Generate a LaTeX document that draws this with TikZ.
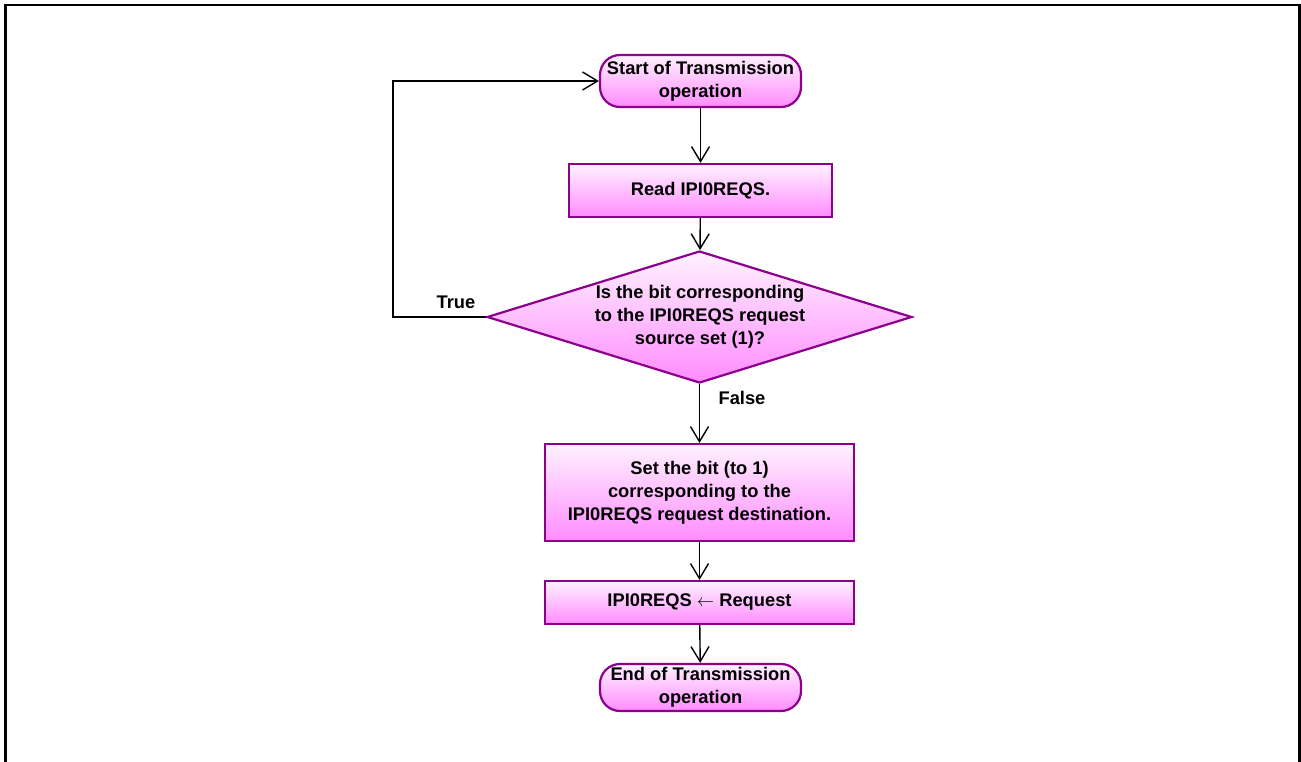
\documentclass[tikz,border=0pt]{standalone}
\usepackage{fontspec}
\setmainfont{Liberation Sans}
\usetikzlibrary{shapes.geometric,arrows.meta}
\definecolor{bord}{RGB}{140,0,140}
\definecolor{ptop}{RGB}{255,242,255}
\definecolor{pbot}{RGB}{255,140,255}
\tikzset{
  base/.style={draw=bord, line width=2.2pt, top color=ptop, bottom color=pbot, inner sep=0pt,
    font=\bfseries\fontsize{18.3}{23}\selectfont, align=center},
  term/.style={base, rectangle, rounded corners=20pt},
  proc/.style={base, rectangle},
  dia/.style={base, diamond},
  txt/.style={font=\bfseries\fontsize{18.3}{23}\selectfont, align=center, inner sep=0pt},
  conn/.style={line width=1.4pt, -{Straight Barb[length=15pt,width=18pt,line width=1.4pt]}},
}
\begin{document}
\begin{tikzpicture}[x=1pt,y=-1pt]
\clip (0,0) rectangle (1301,762);
\draw[line width=2.2pt] (5.5,800) -- (5.5,5) -- (1299.5,5) -- (1299.5,800);

\node[term, minimum width=201pt, minimum height=52pt] (start) at (700.5,81) {Start of Transmission\\operation};
\node[proc, minimum width=263pt, minimum height=53pt] (read) at (700.5,190.5) {Read IPI0REQS.};
\node[dia, minimum width=425pt, minimum height=132pt] (dec) at (699.5,317) {};
\node[txt] (dectxt) at (700,317) {Is the bit corresponding\\to the IPI0REQS request\\source set (1)?};
\node[proc, minimum width=309pt, minimum height=97pt] (set) at (699.5,492.5) {Set the bit (to 1)\\corresponding to the\\IPI0REQS request destination.};
\node[proc, minimum width=309pt, minimum height=43pt] (req) at (699.5,602.5) {IPI0REQS $\leftarrow$ Request};
\node[term, minimum width=201pt, minimum height=47pt] (end) at (700.5,687.5) {End of Transmission\\operation};

\coordinate (lt) at (393,317);
\coordinate (lb) at (393,81);

\draw[conn] (start) -- (read);
\draw[conn] (read) -- (dec);
\draw[conn] (dec.south) -- (set.north);
\draw[conn] (set) -- (req);
\draw[conn] (req) -- (end);
\draw[conn] (dec.west) -- (lt) -- (lb) -- (start.west);

\node[txt] (truelbl) at (456,302) {True};
\node[txt] (falselbl) at (742,398) {False};
\end{tikzpicture}
\end{document}
